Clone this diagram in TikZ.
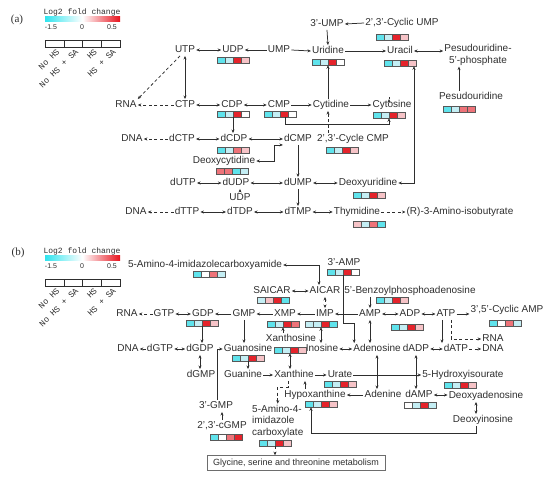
\documentclass[tikz,border=0pt]{standalone}
\usepackage{fontspec}
\setmainfont{Liberation Sans}
\newfontfamily\legfont{Liberation Mono}
\newfontfamily\panfont{Liberation Serif}
\usepackage{tikz}
\usetikzlibrary{arrows.meta,calc}
\definecolor{dark}{HTML}{2E2E2E}
\definecolor{cA}{HTML}{5FE3EC}
\definecolor{cB}{HTML}{C4EEF4}
\definecolor{wW}{HTML}{FFFFFF}
\definecolor{rA}{HTML}{E5232B}
\definecolor{rB}{HTML}{EE7379}
\definecolor{rC}{HTML}{F6C3C7}
\definecolor{gradC}{HTML}{2FE4EE}
\definecolor{gradR}{HTML}{E8141E}

% barra a quattro celle sotto un metabolita
\newcommand{\heatbar}[2]{%
  \foreach \cc [count=\k from 0] in {#2}
    \filldraw[draw=dark!80, line width=0.35pt, fill=\cc]
      ([xshift=\k*8pt]#1.north west) rectangle ++(8,6.5);
}

\begin{document}
\begin{tikzpicture}[x=1pt, y=-1pt,
  met/.style={font=\fontsize{10}{11}\selectfont, text=dark, inner sep=1pt, text height=7.5pt, text depth=2pt},
  metl/.style={font=\fontsize{10}{11.5}\selectfont, text=dark, inner sep=1pt},
  hm/.style={minimum width=32pt, minimum height=6.5pt, inner sep=0pt, outer sep=0pt},
  ar/.style={draw=dark, line width=0.75pt, -{Stealth[length=3.5pt,width=3pt]}},
  biar/.style={draw=dark, line width=0.75pt, {Stealth[length=3.5pt,width=3pt]}-{Stealth[length=3.5pt,width=3pt]}},
  tratt/.style={dash pattern=on 3pt off 2.5pt}]

  \useasboundingbox (0,0) rectangle (550,478);

  % Legenda (a) e (b)
  \foreach \oy in {0,239} {
    \begin{scope}[shift={(0,\oy)}]
      \node[font=\legfont\fontsize{8}{9}\selectfont, text=dark] (lg\oy) at (82,12) {Log2 fold change};
      \shade[left color=gradC, right color=gradR, middle color=white] (45,17) rectangle (120,22);
      \node[font=\fontsize{7}{8}\selectfont, text=dark] (lo\oy) at (51,27) {-1.5};
      \node[font=\fontsize{7}{8}\selectfont, text=dark] (lz\oy) at (82,27) {0};
      \node[font=\fontsize{7}{8}\selectfont, text=dark] (lh\oy) at (112,27) {0.5};
      \foreach \i in {0,...,3}
        \draw[dark, line width=0.5pt] (45+\i*18.75,40) rectangle ++(18.75,7);
      \foreach \t [count=\i from 0] in {No HS, No HS + SA, HS, HS + SA}
        \node[rotate=45, anchor=east, inner sep=0.5pt, text=dark,
              font=\legfont\fontsize{8.5}{9}\selectfont] (lt\oy\i) at (58.5+\i*18.75,50) {\t};
    \end{scope}
  }

  \node[font=\panfont\fontsize{11}{12}\selectfont, text=dark] (pa) at (17,20) {(a)};
  \node[font=\panfont\fontsize{11}{12}\selectfont, text=dark] (pb) at (18,253) {(b)};

  % (a) pirimidine
  \node[met] (UTP)  at (185,50)  {UTP};
  \node[met] (UDP)  at (233,50)  {UDP};
  \node[met] (UMP)  at (279,50)  {UMP};
  \node[met] (UMPp) at (327,24)  {3'-UMP};
  \node[met] (cUMP) at (402,23)  {2',3'-Cyclic UMP};
  \node[met] (Uri)  at (328,51)  {Uridine};
  \node[met] (Ura)  at (400,51)  {Uracil};
  \node[metl, align=center] (PsiP) at (478,55) {Pesudouridine-\\5'-phosphate};
  \node[met] (Psi)  at (471,97)  {Pesudouridine};
  \node[met] (RNAa) at (126,105) {RNA};
  \node[met] (CTP)  at (185,105) {CTP};
  \node[met] (CDP)  at (232,105) {CDP};
  \node[met] (CMP)  at (279,105) {CMP};
  \node[met] (Cyd)  at (331,105) {Cytidine};
  \node[met] (Cyt)  at (392,105) {Cytosine};
  \node[met] (DNAa) at (132,139) {DNA};
  \node[met] (dCTP) at (182,139) {dCTP};
  \node[met] (dCDP) at (234,139) {dCDP};
  \node[met] (dCMP) at (298,139) {dCMP};
  \node[met] (cCMP) at (353,139) {2',3'-Cycle CMP};
  \node[met] (dCyd) at (224,161) {Deoxycytidine};
  \node[met] (dUTP) at (183,183) {dUTP};
  \node[met] (dUDP) at (236,183) {dUDP};
  \node[met] (UDPb) at (240,198) {UDP};
  \node[met] (dUMP) at (298,183) {dUMP};
  \node[met] (dUrd) at (368,183) {Deoxyuridine};
  \node[met] (DNAb) at (136,212) {DNA};
  \node[met] (dTTP) at (187,212) {dTTP};
  \node[met] (dTDP) at (240,212) {dTDP};
  \node[met] (dTMP) at (298,212) {dTMP};
  \node[met] (Thd)  at (357,212) {Thymidine};
  \node[met] (Aib)  at (460,212) {(R)-3-Amino-isobutyrate};

  \node[hm] (UDPh)  at (233,60)  {}; \heatbar{UDPh}{cA,cB,rA,rC}
  \node[hm] (Urih)  at (328,62)  {}; \heatbar{Urih}{cA,cB,rA,wW}
  \node[hm] (cUMPh) at (392,37)  {}; \heatbar{cUMPh}{cA,cB,rA,rC}
  \node[hm] (Urah)  at (400,63)  {}; \heatbar{Urah}{cA,cB,rA,rC}
  \node[hm] (Psih)  at (459,109) {}; \heatbar{Psih}{cA,cB,rB,rB}
  \node[hm] (CDPh)  at (233,114) {}; \heatbar{CDPh}{cA,cB,rA,wW}
  \node[hm] (CMPh)  at (280,114) {}; \heatbar{CMPh}{cA,cB,rA,wW}
  \node[hm] (Cyth)  at (389,115) {}; \heatbar{Cyth}{cA,cB,rA,rC}
  \node[hm] (dCDPh) at (233,150) {}; \heatbar{dCDPh}{cA,cB,rB,rC}
  \node[hm] (cCMPh) at (342,150) {}; \heatbar{cCMPh}{cA,cB,rA,rC}
  \node[hm] (dCydh) at (232,171) {}; \heatbar{dCydh}{rB,rB,cA,cB}
  \node[hm] (dUrdh) at (369,195) {}; \heatbar{dUrdh}{cA,cB,rA,rC}
  \node[hm] (Thdh)  at (369,224) {}; \heatbar{Thdh}{rC,cB,rB,cA}

  \draw[biar] (UTP.east) -- (UDP.west);
  \draw[ar] (UMP.west) -- (UDP.east);
  \draw[ar] (UMP.east) -- (Uri.west);
  \draw[ar] (cUMP.west) -- (UMPp.east);
  \draw[ar] (UMPp.south) -- (Uri.north);
  \draw[ar] (Uri.east) -- (Ura.west);
  \draw[biar] (Ura.east) -- (Ura.east -| PsiP.west);
  \draw[ar] (Psi.north -| Psih) -- (PsiP.south -| Psih);
  \draw[biar] (UTP.south) -- (CTP.north);
  \draw[ar, tratt] ([xshift=-5pt]UTP.south) -- (RNAa.north east);
  \draw[ar, tratt] (CTP.west) -- (RNAa.east);
  \draw[biar] (CTP.east) -- (CDP.west);
  \draw[biar] (CDP.east) -- (CMP.west);
  \draw[ar] (CMP.east) -- (Cyd.west);
  \draw[ar] (Cyd.east) -- (Cyt.west);
  \draw[ar] (Cyd.north -| Urih) -- (Urih.south);
  \draw[ar] (Cyt.north -| Cyth) -- (Cyt.north -| Cyth |- Urah.south);
  \draw[ar] ([xshift=5pt]CMPh.south) -- ++(0,7) -| (Cyth.south);
  \draw[ar, tratt] (cCMP.north -| Urih) -- (Cyd.south -| Urih);
  \draw[biar] (dUrd.east) -| ([xshift=-2pt]Urah.south east);
  \draw[ar] (CDPh.south) -- (CDPh.south |- dCDP.north);
  \draw[biar] (dCTP.east) -- (dCDP.west);
  \draw[ar, tratt] (dCTP.west) -- (DNAa.east);
  \draw[biar] (dCDP.east) -- (dCMP.west);
  \draw[biar] (dCyd.east) -| ([xshift=-9pt]dCMP.south west) -- (dCMP.south west);
  \draw[ar] (dCMP.south) -- (dUMP.north);
  \draw[biar] (dUTP.east) -- (dUDP.west);
  \draw[biar] (dUDP.east) -- (dUMP.west);
  \draw[ar] (UDPb.north) -- (UDPb.north |- dUDP.south);
  \draw[biar] (dUMP.east) -- (dUrd.west);
  \draw[ar] (dUMP.south) -- (dTMP.north);
  \draw[ar, tratt] (dTTP.west) -- (DNAb.east);
  \draw[biar] (dTTP.east) -- (dTDP.west);
  \draw[biar] (dTDP.east) -- (dTMP.west);
  \draw[biar] (dTMP.east) -- (Thd.west);
  \draw[ar, tratt] (Thd.east) -- (Aib.west);

  % (b) purine
  \node[met] (Amc)    at (205,265) {5-Amino-4-imidazolecarboxyamide};
  \node[met] (AMPp)   at (344,263) {3'-AMP};
  \node[met] (SAICAR) at (272,291) {SAICAR};
  \node[met] (AICAR)  at (325,291) {AICAR};
  \node[met] (BzA)    at (410,291) {5'-Benzoylphosphoadenosine};
  \node[met] (RNAc)   at (127,314) {RNA};
  \node[met] (GTP)    at (164,314) {GTP};
  \node[met] (GDP)    at (203,314) {GDP};
  \node[met] (GMP)    at (244,314) {GMP};
  \node[met] (XMP)    at (285,314) {XMP};
  \node[met] (IMP)    at (325,314) {IMP};
  \node[met] (AMP)    at (370,314) {AMP};
  \node[met] (ADP)    at (410,314) {ADP};
  \node[met] (ATP)    at (446,314) {ATP};
  \node[met] (cAMP)   at (507,310) {3',5'-Cyclic AMP};
  \node[met] (RNAd)   at (493,339) {RNA};
  \node[met] (DNAd)   at (493,349) {DNA};
  \node[met] (dATP)   at (456,349) {dATP};
  \node[met] (dADP)   at (416,349) {dADP};
  \node[met] (Ado)    at (377,349) {Adenosine};
  \node[met] (Ino)    at (322,349) {Inosine};
  \node[met] (Xao)    at (291,339) {Xanthosine};
  \node[met] (Guo)    at (248,349) {Guanosine};
  \node[met] (dGDP)   at (200,349) {dGDP};
  \node[met] (dGTP)   at (160,349) {dGTP};
  \node[met] (DNAc)   at (128,349) {DNA};
  \node[met] (dGMP)   at (201,375) {dGMP};
  \node[met] (Gua)    at (243,375) {Guanine};
  \node[met] (Xan)    at (294,375) {Xanthine};
  \node[met] (Urate)  at (340,375) {Urate};
  \node[met] (HIU)    at (463,375) {5-Hydroxyisourate};
  \node[met] (Hyp)    at (315,395) {Hypoxanthine};
  \node[met] (Ade)    at (383,395) {Adenine};
  \node[met] (dAMP)   at (419,395) {dAMP};
  \node[met] (dAdo)   at (486,396) {Deoxyadenosine};
  \node[met] (dIno)   at (483,420) {Deoxyinosine};
  \node[met] (GMPp)   at (216,406) {3'-GMP};
  \node[met] (cGMP)   at (222,426) {2',3'-cGMP};
  \node[metl, align=left, anchor=west] (AIC) at (251,421) {5-Amino-4-\\imidazole\\carboxylate};
  \node[draw=dark!70, line width=0.5pt, text=dark, font=\fontsize{9}{10}\selectfont,
        minimum width=178pt, minimum height=15pt, inner sep=1pt] (Gly) at (296,463)
        {Glycine, serine and threonine metabolism};

  \node[hm] (Amch)    at (209,274) {}; \heatbar{Amch}{cA,wW,rB,cB}
  \node[hm] (AMPph)   at (343,272) {}; \heatbar{AMPph}{cA,cB,rA,wW}
  \node[hm] (SAICARh) at (273,300) {}; \heatbar{SAICARh}{cB,rC,rA,cA}
  \node[hm] (BzAh)    at (392,300) {}; \heatbar{BzAh}{cA,cB,rA,rC}
  \node[hm] (GDPh)    at (202,323) {}; \heatbar{GDPh}{cA,cB,rA,rC}
  \node[hm] (XMPh)    at (283,324) {}; \heatbar{XMPh}{cA,cB,rA,rB}
  \node[hm] (IMPh)    at (321,324) {}; \heatbar{IMPh}{cB,cB,rA,cA}
  \node[hm] (ADPh)    at (407,327) {}; \heatbar{ADPh}{cA,cB,rA,rC}
  \node[hm] (cAMPh)   at (505,323) {}; \heatbar{cAMPh}{cA,wW,rB,cB}
  \node[hm] (Xaoh)    at (290,350) {}; \heatbar{Xaoh}{cA,cB,rA,rC}
  \node[hm] (Guoh)    at (248,358) {}; \heatbar{Guoh}{cA,cB,rA,rC}
  \node[hm] (Urateh)  at (340,384) {}; \heatbar{Urateh}{cA,cB,rA,rC}
  \node[hm] (HIUh)    at (460,385) {}; \heatbar{HIUh}{cA,cB,rA,rC}
  \node[hm] (Hyph)    at (321,404) {}; \heatbar{Hyph}{cA,cB,rA,rC}
  \node[hm] (dAMPh)   at (420,405) {}; \heatbar{dAMPh}{wW,cB,rA,cB}
  \node[hm] (cGMPh)   at (226,437) {}; \heatbar{cGMPh}{cA,wW,rB,rA}
  \node[hm] (AICh)    at (275,443) {}; \heatbar{AICh}{cA,cB,rA,rC}

  \draw[biar] (Amc.east) -| ([xshift=-6pt]AICAR.north);
  \draw[ar] (AMPph.south) |- ([xshift=2pt,yshift=20pt]Ado.north west) -- ([xshift=2pt]Ado.north west);
  \draw[biar] (SAICAR.east) -- (AICAR.west);
  \draw[biar, tratt] (AICAR.south) -- (AICAR.south |- IMP.north);
  \draw[ar] (AMP.north |- BzA.south) -- (AMP.north);
  \draw[ar, tratt] (GTP.west) -- (RNAc.east);
  \draw[biar] (GTP.east) -- (GDP.west);
  \draw[ar] (GMP.west) -- (GDP.east);
  \draw[ar] (XMP.west) -- (GMP.east);
  \draw[ar] (IMP.west) -- (XMP.east);
  \draw[ar] (AMP.west) -- (IMP.east);
  \draw[biar] (AMP.east) -- (ADP.west);
  \draw[biar] (ADP.east) -- (ATP.west);
  \draw[ar] (ATP.east) -- (ATP.east -| cAMP.west);
  \draw[ar] ([xshift=-4pt]ATP.south) -- ([xshift=-4pt]ATP.south |- dATP.north);
  \draw[ar, tratt] ([xshift=5pt]ATP.south) |- (RNAd.west);
  \draw[ar, tratt] (dATP.east) -- (DNAd.west);
  \draw[biar] (dADP.east) -- (dATP.west);
  \draw[ar] (GDPh.south) -- (GDPh.south |- dGDP.north);
  \draw[ar] (GMP.south) -- (GMP.south |- Guo.north);
  \draw[ar] (Xao.north -| XMPh) -- (XMPh.south);
  \draw[biar] (IMPh.south) -- (IMPh.south |- Ino.north);
  \draw[biar] (AMP.south) -- (AMP.south |- Ado.north);
  \draw[biar] (Ino.east) -- (Ado.west);
  \draw[biar] (dGTP.east) -- (dGDP.west);
  \draw[ar, tratt] (dGTP.west) -- (DNAc.east);
  \draw[ar] ([xshift=1pt]GMPp.north) |- (Guo.west);
  \draw[biar] (dGDP.south) -- (dGDP.south |- dGMP.north);
  \draw[ar] (cGMP.north) -- (cGMP.north |- GMPp.south);
  \draw[ar] (Guoh.south) -- (Guoh.south |- Gua.north);
  \draw[ar] (Gua.east) -- (Xan.west);
  \draw[biar] (Xan.north -| Xaoh) -- (Xaoh.south);
  \draw[ar] (Xan.east) -- (Urate.west);
  \draw[ar] (Urate.east) -- (HIU.west);
  \draw[biar] (Ado.south) -- (Ado.south |- Ade.north);
  \draw[biar] (dADP.south) -- (dADP.south |- dAMP.north);
  \draw[ar] (Ade.west) -- (Hyp.east);
  \draw[ar] ([xshift=-10pt]Hyp.north) -- ([xshift=-10pt]Hyp.north |- Xan.south);
  \draw[biar] (dAMP.east) -- (dAMP.east -| dAdo.west);
  \draw[biar] ([xshift=-7pt]dIno.north) -- ([xshift=-7pt]dIno.north |- dAdo.south);
  \draw[ar] ([xshift=-7pt]dIno.south) -- ++(0,7) -| ([xshift=-10pt]Hyph.south);
  \draw[ar, tratt] ([xshift=-6pt]Xan.south) -- ++(0,6) -| (AIC.north);
  \draw[ar, tratt] (AICh.south) -- (AICh.south |- Gly.north);
\end{tikzpicture}
\end{document}
